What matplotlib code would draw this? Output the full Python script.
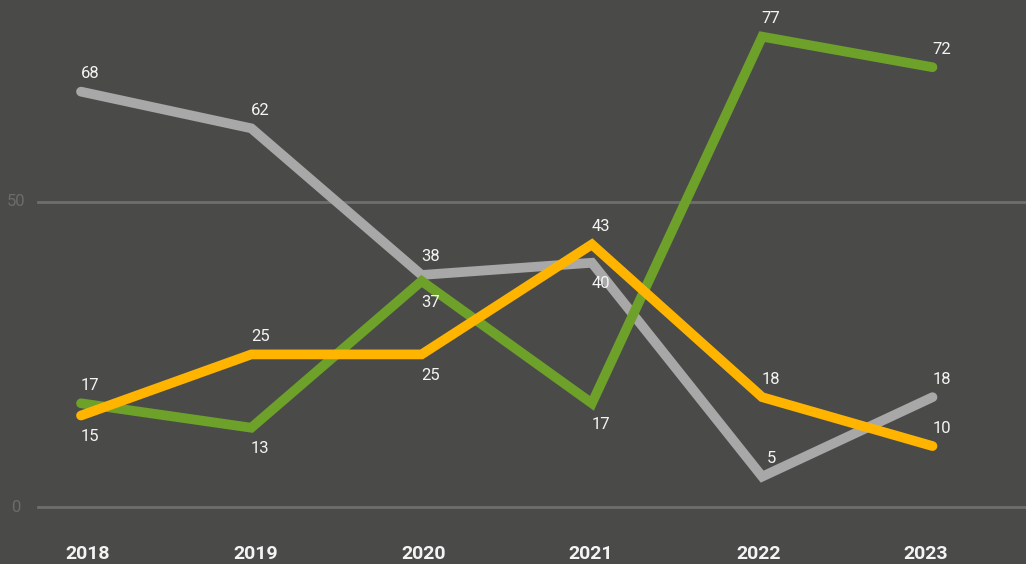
import matplotlib
matplotlib.use('Agg')
import matplotlib.pyplot as plt

# ── Données ──────────────────────────────────────────────
years = [2018, 2019, 2020, 2021, 2022, 2023]
gray_values = [68, 62, 38, 40, 5, 18]
green_values = [17, 13, 37, 17, 77, 72]
yellow_values = [15, 25, 25, 43, 18, 10]

# placement des étiquettes : +1 au-dessus, -1 en dessous
gray_side = [1, 1, 1, -1, 1, 1]
green_side = [1, -1, -1, -1, 1, 1]
yellow_side = [-1, 1, -1, 1, 1, 1]

y_ticks = [0, 50]

# ── Palette ──────────────────────────────────────────────
BG = '#4a4a48'
GRID = '#6e6e6c'
TICK = '#6c6c6a'
TEXT = '#f4f4f4'
SERIES = [
    (gray_values, gray_side, '#a8a8a8'),
    (green_values, green_side, '#6ea12a'),
    (yellow_values, yellow_side, '#ffb400'),
]

plt.rcParams['font.family'] = ['Roboto', 'DejaVu Sans']

W, H = 1026, 564
fig = plt.figure(figsize=(W / 100, H / 100), dpi=100, facecolor=BG)
ax = fig.add_axes([0, 0, 1, 1])
ax.set_facecolor(BG)
ax.set_xlim(2018 - 81 / 170.3, 2018 + (W - 81) / 170.3)
ax.set_ylim(-9.3, 83.0)
ax.axis('off')

# lignes de grille + libellés de l'axe y
for t in y_ticks:
    ax.axhline(t, xmin=38 / W, xmax=1, color=GRID, lw=2, zorder=1)
    ax.text(16 / W, t, str(t), color=TICK, fontsize=12,
            ha='center', va='center', transform=ax.get_yaxis_transform())

# courbes et étiquettes de valeurs
for values, sides, color in SERIES:
    ax.plot(years, values, color=color, lw=7, solid_capstyle='round',
            solid_joinstyle='miter', zorder=3)
    for x, v, s in zip(years, values, sides):
        ax.annotate(str(v), (x, v), xytext=(9, 18 if s > 0 else -21),
                    textcoords='offset pixels', ha='center', va='center',
                    color=TEXT, fontsize=12, zorder=4)

# années en bas du graphique (libellés de catégories)
for i, x in enumerate(years):
    fig.text((88 + 167.6 * i) / W, 10 / H, str(x), ha='center', va='center',
             color=TEXT, fontsize=14, fontweight='bold')

fig.savefig('out.png', dpi=100, facecolor=BG)
